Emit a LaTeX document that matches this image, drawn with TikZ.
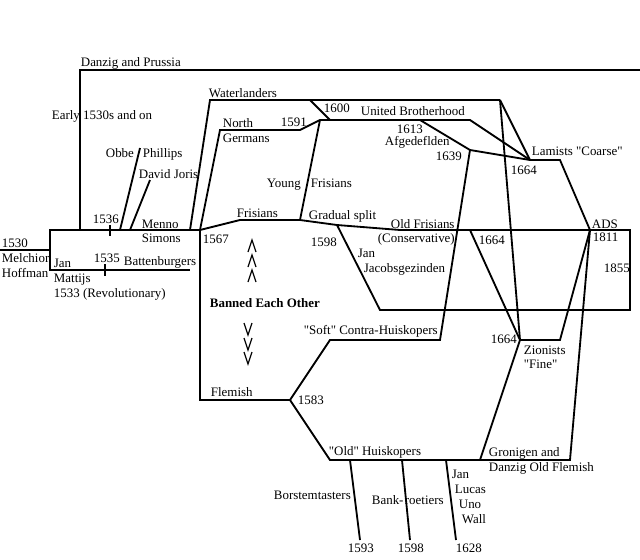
\documentclass[tikz,border=0pt]{standalone}
\usepackage{fontspec}
\setmainfont{Liberation Serif}[Ligatures=TeXOff]
\begin{document}
\begin{tikzpicture}[x=0.025cm,y=-0.025cm,
  line width=1.3pt,
  lbl/.style={anchor=base west, inner sep=0pt, font=\fontsize{9.2pt}{11pt}\selectfont},
  boldlbl/.style={lbl, font=\fontsize{9.2pt}{11pt}\selectfont\bfseries},
  chev/.style={line width=0.8pt},
  tick/.style={line width=1.3pt}]
\useasboundingbox (0,0) rectangle (640,560);
% ---------- junction coordinates ----------
\coordinate (d0) at (80,230);
\coordinate (d1) at (80,70);
\coordinate (d2) at (640,70);
\coordinate (m0) at (0,250);
\coordinate (m1) at (50,250);
\coordinate (b0) at (50,230);
\coordinate (b1) at (50,270);
\coordinate (b2) at (190,270);
\coordinate (ms) at (200,230);
\coordinate (t1a) at (110,225); \coordinate (t1b) at (110,236);
\coordinate (t2a) at (105,264); \coordinate (t2b) at (105,276);
\coordinate (ob0) at (120,230); \coordinate (ob1) at (140,148);
\coordinate (dj0) at (130,230); \coordinate (dj1) at (150,180);
\coordinate (w0) at (190,230); \coordinate (w1) at (210,100); \coordinate (w2) at (500,100);
\coordinate (ng1) at (220,130); \coordinate (ng2) at (300,130); \coordinate (ub0) at (320,120);
\coordinate (ub1) at (470,120);
\coordinate (s1600a) at (310,100); \coordinate (s1600b) at (330,120);
\coordinate (fr1) at (240,220); \coordinate (fr2) at (300,220);
\coordinate (gs) at (337,225); \coordinate (of0) at (400,230);
\coordinate (bx1) at (630,230); \coordinate (bx2) at (630,310); \coordinate (bx3) at (380,310);
\coordinate (af0) at (420,120); \coordinate (af1) at (470,150);
\coordinate (la0) at (530,160); \coordinate (la1) at (560,160);
\coordinate (ads) at (590,230);
\coordinate (sc0) at (440,340); \coordinate (sc1) at (330,340);
\coordinate (fl0) at (290,400); \coordinate (fl1) at (200,400);
\coordinate (oh0) at (330,460); \coordinate (oh1) at (570,460);
\coordinate (zi) at (520,340); \coordinate (zi1) at (560,340);
\coordinate (of1664) at (470,230);
\coordinate (gr) at (480,460);
\coordinate (bo0) at (350,460); \coordinate (bo1) at (360,540);
\coordinate (bk0) at (402,460); \coordinate (bk1) at (410,540);
\coordinate (jl0) at (446,460); \coordinate (jl1) at (456,540);
% ---------- lines ----------
\draw (d0) -- (d1) -- (d2);
\draw (m0) -- (m1);
\draw (ms) -- (b0) -- (b1) -- (b2);
\draw[tick] (t1a) -- (t1b);
\draw[tick] (t2a) -- (t2b);
\draw (ob0) -- (ob1);
\draw (dj0) -- (dj1);
\draw (w0) -- (w1) -- (w2);
\draw (ms) -- (ng1) -- (ng2) -- (ub0) -- (ub1) -- (la0);
\draw (s1600a) -- (s1600b);
\draw (fr2) -- (ub0);
\draw (ms) -- (fr1) -- (fr2) -- (gs) -- (of0) -- (bx1) -- (bx2) -- (bx3) -- (gs);
\draw (af0) -- (af1) -- (la0) -- (la1) -- (ads);
\draw (af1) -- (sc0) -- (sc1) -- (fl0) -- (fl1) -- (ms);
\draw (fl0) -- (oh0) -- (oh1) -- (ads);
\draw (w2) -- (zi);
\draw (w2) -- (la0);
\draw (of1664) -- (zi) -- (zi1) -- (ads);
\draw (zi) -- (gr);
\draw (bo0) -- (bo1);
\draw (bk0) -- (bk1);
\draw (jl0) -- (jl1);
% ---------- chevrons ----------
\foreach \cy in {246,261,276} \draw[chev] (248,\cy+6) -- (252,\cy-6) -- (256,\cy+6);
\foreach \cy in {329,344,358} \draw[chev] (244,\cy-6) -- (248,\cy+6) -- (252,\cy-6);
% ---------- labels ----------
\node[lbl] (l1) at (80,66) {Danzig and Prussia};
\node[lbl] (l2) at (51,119) {Early 1530s and on};
\node[lbl] (l3) at (105,157) {Obbe};
\node[lbl] (l4) at (142,157) {Phillips};
\node[lbl] (l5) at (138,178) {David Joris};
\node[lbl] (l6) at (92,223) {1536};
\node[lbl] (l7) at (141,228) {Menno};
\node[lbl] (l8) at (141,242) {Simons};
\node[lbl] (l9) at (1,247) {1530};
\node[lbl] (l10) at (1,262) {Melchior};
\node[lbl] (l11) at (1,277) {Hoffman};
\node[lbl] (l12) at (53,267) {Jan};
\node[lbl] (l13) at (53,282) {Mattijs};
\node[lbl] (l14) at (53,297) {1533 (Revolutionary)};
\node[lbl] (l15) at (93,262) {1535};
\node[lbl] (l16) at (123,265) {Battenburgers};
\node[lbl] (l17) at (202,243) {1567};
\node[lbl] (l18) at (208,97) {Waterlanders};
\node[lbl] (l19) at (222,127) {North};
\node[lbl] (l20) at (222,142) {Germans};
\node[lbl] (l21) at (280,126) {1591};
\node[lbl] (l22) at (323,112) {1600};
\node[lbl] (l23) at (360,115) {United Brotherhood};
\node[lbl] (l24) at (396,133) {1613};
\node[lbl] (l25) at (384,145) {Afgedeflden};
\node[lbl] (l26) at (435,160) {1639};
\node[lbl] (l27) at (531,155) {Lamists "Coarse"};
\node[lbl] (l28) at (510,174) {1664};
\node[lbl] (l29) at (266,187) {Young};
\node[lbl] (l30) at (310,187) {Frisians};
\node[lbl] (l31) at (236,217) {Frisians};
\node[lbl] (l32) at (308,219) {Gradual split};
\node[lbl] (l33) at (390,228) {Old Frisians};
\node[lbl] (l34) at (377,242) {(Conservative)};
\node[lbl] (l35) at (310,246) {1598};
\node[lbl] (l36) at (357,257) {Jan};
\node[lbl] (l37) at (363,272) {Jacobsgezinden};
\node[lbl] (l38) at (478,244) {1664};
\node[lbl] (l39) at (591,228) {ADS};
\node[lbl] (l40) at (592,241) {1811};
\node[lbl] (l41) at (603,272) {1855};
\node[boldlbl] (l42) at (209,307) {Banned Each Other};
\node[lbl] (l43) at (303,334) {"Soft" Contra-Huiskopers};
\node[lbl] (l44) at (490,343) {1664};
\node[lbl] (l45) at (523,354) {Zionists};
\node[lbl] (l46) at (523,368) {"Fine"};
\node[lbl] (l47) at (210,396) {Flemish};
\node[lbl] (l48) at (297,404) {1583};
\node[lbl] (l49) at (328,455) {"Old" Huiskopers};
\node[lbl] (l50) at (273,499) {Borstemtasters};
\node[lbl] (l51) at (371,504) {Bank-};
\node[lbl] (l52) at (404,504) {roetiers};
\node[lbl] (l53) at (451,478) {Jan};
\node[lbl] (l54) at (454,493) {Lucas};
\node[lbl] (l55) at (458,508) {Uno};
\node[lbl] (l56) at (461,523) {Wall};
\node[lbl] (l57) at (488,456) {Gronigen and};
\node[lbl] (l58) at (488,471) {Danzig Old Flemish};
\node[lbl] (l59) at (347,552) {1593};
\node[lbl] (l60) at (397,552) {1598};
\node[lbl] (l61) at (455,552) {1628};
\end{tikzpicture}
\end{document}
